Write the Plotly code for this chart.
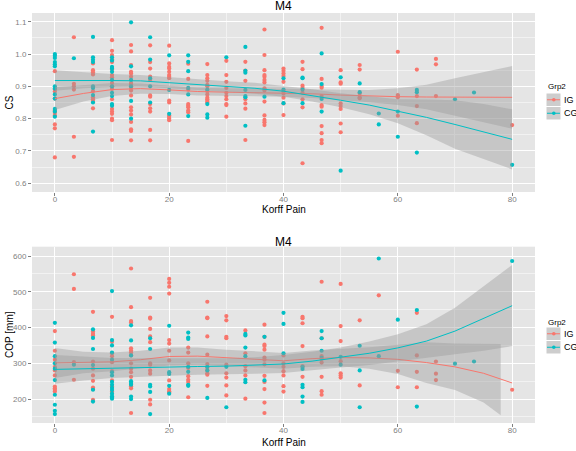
import plotly.graph_objects as go

# ---------------- data ----------------
# Korff Pain levels -> CS values, per group
CS_IG = {
    0: [0.947, 0.89, 0.884, 0.862, 0.825, 0.818, 0.81, 0.782, 0.77, 0.68],
    3.33: [1.052, 0.908, 0.9, 0.89, 0.744, 0.682],
    6.67: [0.971, 0.95, 0.944, 0.937, 0.885, 0.866, 0.86, 0.855, 0.832],
    10: [1.043, 1.01, 0.997, 0.984, 0.975, 0.952, 0.935, 0.928, 0.91, 0.9, 0.892, 0.86, 0.83, 0.822, 0.815, 0.8, 0.795, 0.734],
    13.33: [1.028, 1.008, 0.966, 0.945, 0.94, 0.93, 0.91, 0.905, 0.895, 0.887, 0.872, 0.835, 0.825, 0.813, 0.79, 0.767, 0.762, 0.733],
    16.67: [1.027, 0.975, 0.955, 0.93, 0.92, 0.872, 0.868, 0.845, 0.832, 0.822, 0.765, 0.733],
    20: [1.026, 0.971, 0.96, 0.955, 0.945, 0.935, 0.93, 0.925, 0.856, 0.85, 0.81, 0.805, 0.8, 0.795],
    23.33: [0.97, 0.923, 0.89, 0.845, 0.84, 0.835, 0.825, 0.82, 0.731],
    26.67: [0.969, 0.935, 0.925, 0.917, 0.905, 0.9, 0.885, 0.875, 0.865, 0.86, 0.855, 0.85],
    30: [0.979, 0.935, 0.914, 0.895, 0.88, 0.87, 0.86, 0.845, 0.842, 0.806],
    33.33: [0.976, 0.949, 0.917, 0.86, 0.847, 0.831, 0.734],
    36.67: [1.076, 0.997, 0.95, 0.935, 0.93, 0.92, 0.912, 0.894, 0.887, 0.853, 0.81, 0.796, 0.789, 0.78],
    40: [0.955, 0.948, 0.94, 0.932, 0.914, 0.885, 0.878, 0.865, 0.847, 0.811],
    43.33: [0.976, 0.953, 0.902, 0.895, 0.88, 0.86, 0.835, 0.662],
    46.67: [1.081, 0.923, 0.901, 0.896, 0.87, 0.842, 0.837, 0.777, 0.755, 0.734, 0.724],
    50: [0.95, 0.912, 0.908, 0.847, 0.839, 0.83, 0.785, 0.758],
    53.33: [0.966, 0.952, 0.878, 0.866, 0.863],
    60: [1.007, 0.873, 0.87, 0.866, 0.809],
    63.33: [0.952, 0.87, 0.839, 0.786],
    66.67: [0.985, 0.968, 0.87],
    80: [0.78],
}
CS_CG = {
    0: [1.0, 0.995, 0.988, 0.975, 0.968, 0.962, 0.9, 0.893, 0.875, 0.862, 0.83, 0.822, 0.806],
    3.33: [0.987],
    6.67: [1.053, 0.99, 0.982, 0.975, 0.9, 0.895, 0.873, 0.85, 0.76],
    10: [0.99, 0.98, 0.96, 0.955, 0.945, 0.92, 0.9, 0.88, 0.87, 0.845, 0.84],
    13.33: [1.098, 0.962, 0.92, 0.9, 0.855, 0.8],
    16.67: [1.052, 0.983, 0.925, 0.9, 0.85],
    20: [0.996, 0.889, 0.815],
    23.33: [0.996, 0.976, 0.947, 0.895, 0.875, 0.808],
    26.67: [0.89, 0.845, 0.813, 0.803],
    30: [0.99],
    33.33: [1.022, 0.948, 0.942, 0.889, 0.87, 0.866, 0.778],
    36.67: [0.868],
    40: [0.925, 0.89, 0.848],
    43.33: [0.927, 0.925, 0.89, 0.848],
    46.67: [1.002, 0.907, 0.861, 0.822],
    50: [0.928, 0.639],
    53.33: [0.909, 0.882],
    56.67: [0.816, 0.782],
    60: [0.822, 0.744],
    63.33: [0.889, 0.882, 0.695],
    70: [0.86],
    73.33: [0.881],
    80: [0.657],
}
COP_IG = {
    0: [390, 335, 310, 290, 280, 266, 235, 230, 226, 221],
    3.33: [549, 508, 303, 254],
    6.67: [444, 389, 382, 378, 305, 285, 266, 251, 232, 228, 198],
    10: [430, 360, 328, 320, 303, 278, 252, 235, 221],
    13.33: [565, 457, 418, 414, 342, 336, 330, 322, 300, 285, 275, 262, 242, 236, 230, 161],
    16.67: [483, 428, 425, 396, 375, 359, 300, 296, 280, 271, 198, 185],
    20: [536, 525, 514, 495, 365, 355, 335, 308, 252, 228, 222, 218],
    23.33: [344, 330, 300, 287, 264, 254, 248, 205],
    26.67: [472, 428, 426, 375, 324, 298, 288, 280, 272, 268, 237],
    30: [432, 420, 374, 370, 296, 272, 260, 238, 210],
    33.33: [392, 328, 292, 280, 266, 201],
    36.67: [408, 374, 352, 348, 338, 316, 310, 297, 265, 248, 228, 190, 161],
    40: [322, 300, 290, 278, 266, 236, 221],
    43.33: [430, 426, 412, 348, 292, 262],
    46.67: [528, 370, 320, 312, 302, 262, 222, 212],
    50: [522, 404, 362, 306, 272, 266, 260],
    53.33: [420, 238],
    56.67: [490],
    60: [279, 233],
    63.33: [441, 322, 276, 233],
    66.67: [305, 271, 253],
    80: [226],
}
COP_CG = {
    0: [413, 358, 320, 300, 285, 253, 212, 184, 167, 158],
    3.33: [296],
    6.67: [395, 371, 340, 295, 226, 193],
    10: [502, 365, 350, 330, 310, 275, 266, 248, 240, 231, 225, 215, 208, 204, 201],
    13.33: [406, 364, 322, 250, 245, 240, 207, 200],
    16.67: [370, 340, 240, 235, 220, 158],
    20: [405, 275, 270, 237, 215],
    23.33: [386, 372, 368, 290, 276, 240, 237],
    26.67: [290, 280, 203],
    30: [290, 177],
    33.33: [382, 378, 344, 320, 254, 247],
    36.67: [374, 252],
    40: [441, 410, 328],
    43.33: [290, 284, 240, 233, 207, 192],
    46.67: [390, 370, 335, 315],
    50: [318, 296],
    53.33: [349, 280, 177],
    56.67: [593, 320],
    60: [422],
    63.33: [449, 179],
    70: [299],
    73.33: [305],
    80: [586],
}

# loess fits and confidence bands
FIT_X = [0, 5, 10, 15, 20, 25, 30, 35, 40, 45, 50, 55, 60, 65, 70, 75, 80]
CS_IG_FIT = [0.862, 0.878, 0.890, 0.893, 0.889, 0.884, 0.882, 0.881, 0.880, 0.877, 0.873, 0.870, 0.868, 0.867, 0.867, 0.866, 0.866]
CS_IG_LO = [0.827, 0.853, 0.870, 0.877, 0.876, 0.872, 0.870, 0.869, 0.868, 0.864, 0.858, 0.851, 0.842, 0.829, 0.809, 0.788, 0.769]
CS_IG_HI = [0.897, 0.903, 0.910, 0.909, 0.902, 0.896, 0.894, 0.893, 0.892, 0.890, 0.888, 0.889, 0.894, 0.905, 0.925, 0.944, 0.963]
CS_CG_FIT = [0.918, 0.919, 0.918, 0.917, 0.911, 0.905, 0.900, 0.894, 0.885, 0.872, 0.857, 0.842, 0.823, 0.804, 0.782, 0.760, 0.736]
CS_CG_LO = [0.886, 0.894, 0.898, 0.899, 0.894, 0.889, 0.884, 0.877, 0.868, 0.853, 0.835, 0.814, 0.786, 0.749, 0.707, 0.675, 0.643]
CS_CG_HI = [0.950, 0.944, 0.938, 0.935, 0.928, 0.921, 0.916, 0.911, 0.902, 0.891, 0.879, 0.870, 0.860, 0.859, 0.857, 0.845, 0.829]

COP_IG_FIT = [301, 302, 304, 310, 319, 320, 316, 311, 307, 313, 316, 315, 311, 302, 290, 272, 245]
COP_IG_BAND_X = [0, 5, 10, 15, 20, 25, 30, 35, 40, 45, 50, 55, 60, 65, 70, 75, 78]
COP_IG_LO = [259, 272, 278, 285, 294, 296, 294, 289, 285, 290, 292, 285, 270, 245, 225, 190, 155]
COP_IG_HI = [343, 332, 330, 335, 344, 344, 338, 333, 329, 336, 340, 345, 352, 359, 355, 354, 354]
COP_CG_FIT = [283, 285, 287, 288, 290, 291, 292, 294, 298, 306, 316, 328, 343, 362, 390, 425, 461]
COP_CG_LO = [243, 252, 259, 262, 265, 268, 270, 271, 273, 280, 288, 295, 305, 315, 325, 335, 348]
COP_CG_HI = [323, 318, 315, 314, 315, 314, 314, 317, 323, 332, 344, 361, 381, 409, 455, 515, 575]

GROUPS = ["IG", "CG"]
X_TICKS = [0, 20, 40, 60, 80]
CS_TICKS = [0.6, 0.7, 0.8, 0.9, 1.0, 1.1]
COP_TICKS = [200, 300, 400, 500, 600]

# ---------------- styling ----------------
W, H = 576, 451
RED, TEAL = "#F8766D", "#00BFC4"
BAND = "rgba(153,153,153,0.4)"
FONT = "Liberation Sans, Arial, sans-serif"


def px(x):
    return x / W


def py(y):
    return 1 - y / H


def flat(d):
    xs, ys = [], []
    for k, vals in d.items():
        for v in vals:
            xs.append(k)
            ys.append(v)
    return xs, ys


fig = go.Figure()


def add_panel(xa, ya, ig, cg, ig_fit, ig_bx, ig_lo, ig_hi, cg_fit, cg_lo, cg_hi):
    for d, col in ((ig, RED), (cg, TEAL)):
        xs, ys = flat(d)
        fig.add_trace(go.Scatter(x=xs, y=ys, mode="markers", xaxis=xa, yaxis=ya,
                                 marker=dict(color=col, size=4.2, line=dict(width=0)),
                                 showlegend=False, hoverinfo="skip"))
    for bx, lo, hi, fit, col in ((ig_bx, ig_lo, ig_hi, ig_fit, RED), (FIT_X, cg_lo, cg_hi, cg_fit, TEAL)):
        fig.add_trace(go.Scatter(x=list(bx) + list(bx)[::-1], y=list(hi) + list(lo)[::-1],
                                 fill="toself", fillcolor=BAND, line=dict(width=0),
                                 mode="lines", xaxis=xa, yaxis=ya, showlegend=False, hoverinfo="skip"))
        fig.add_trace(go.Scatter(x=FIT_X, y=fit, mode="lines", xaxis=xa, yaxis=ya,
                                 line=dict(color=col, width=1), showlegend=False, hoverinfo="skip"))


add_panel("x", "y", CS_IG, CS_CG, CS_IG_FIT, FIT_X, CS_IG_LO, CS_IG_HI, CS_CG_FIT, CS_CG_LO, CS_CG_HI)
add_panel("x2", "y2", COP_IG, COP_CG, COP_IG_FIT, COP_IG_BAND_X, COP_IG_LO, COP_IG_HI,
          COP_CG_FIT, COP_CG_LO, COP_CG_HI)

XDOM = [px(32), px(535)]
axis_common = dict(showline=False, zeroline=False, ticks="outside", ticklen=3, tickwidth=1,
                   tickcolor="#7F7F7F", tickfont=dict(family=FONT, size=8, color="#7F7F7F"),
                   showgrid=True, gridcolor="#FFFFFF", gridwidth=1)
minor_common = dict(showgrid=True, gridcolor="#F2F2F2", gridwidth=0.6, ticks="")

fig.update_layout(
    width=W, height=H, margin=dict(l=0, r=0, t=0, b=0),
    paper_bgcolor="#FFFFFF", plot_bgcolor="#E5E5E5", showlegend=False,
    font=dict(family=FONT),
    xaxis=dict(domain=XDOM, anchor="y", range=[-4, 84], tickvals=X_TICKS, ticklabelstandoff=-4,
               minor=dict(dtick=10, tick0=0, **minor_common), **axis_common),
    yaxis=dict(domain=[py(192), py(13)], anchor="x", range=[0.573, 1.127], tickvals=CS_TICKS,
               tickformat=".1f", minor=dict(dtick=0.05, tick0=0.6, **minor_common), **axis_common),
    xaxis2=dict(domain=XDOM, anchor="y2", range=[-4, 84], tickvals=X_TICKS, ticklabelstandoff=-4,
                minor=dict(dtick=10, tick0=0, **minor_common), **axis_common),
    yaxis2=dict(domain=[py(423), py(246.7)], anchor="x2", range=[133, 626], tickvals=COP_TICKS,
                minor=dict(dtick=50, tick0=150, **minor_common), **axis_common),
)

ann = []
cx = px((32 + 535) / 2)
for title_y, xt_y, yt, yt_y in ((6, 210, "CS", 102.5), (242, 442, "COP [mm]", 335)):
    ann.append(dict(text="M4", x=cx, y=py(title_y), xref="paper", yref="paper",
                    showarrow=False, xanchor="center", yanchor="middle",
                    font=dict(family=FONT, size=12, color="#000000")))
    ann.append(dict(text="Korff Pain", x=cx, y=py(xt_y), xref="paper", yref="paper",
                    showarrow=False, xanchor="center", yanchor="middle",
                    font=dict(family=FONT, size=10, color="#000000")))
    ann.append(dict(text=yt, x=px(9), y=py(yt_y), xref="paper", yref="paper", textangle=-90,
                    showarrow=False, xanchor="center", yanchor="middle",
                    font=dict(family=FONT, size=10, color="#000000")))

shapes = []
for title_y, key_top in ((86, 93), (322, 327)):
    ann.append(dict(text="Grp2", x=px(546), y=py(title_y), xref="paper", yref="paper",
                    showarrow=False, xanchor="left", yanchor="middle",
                    font=dict(family=FONT, size=8, color="#000000")))
    for i, (g, col) in enumerate(zip(GROUPS, (RED, TEAL))):
        t = key_top + i * 13.5
        b = t + 13.5
        mid = (t + b) / 2
        shapes.append(dict(type="rect", xref="paper", yref="paper", x0=px(546.5), x1=px(560.5),
                           y0=py(b - 0.5), y1=py(t + 0.5), fillcolor="#CDCDCD", line=dict(width=0),
                           layer="above"))
        shapes.append(dict(type="line", xref="paper", yref="paper", x0=px(547), x1=px(560),
                           y0=py(mid), y1=py(mid), line=dict(color=col, width=1), layer="above"))
        shapes.append(dict(type="circle", xref="paper", yref="paper", x0=px(552), x1=px(555.6),
                           y0=py(mid + 1.8), y1=py(mid - 1.8), fillcolor=col, line=dict(width=0),
                           layer="above"))
        ann.append(dict(text=g, x=px(562), y=py(mid), xref="paper", yref="paper",
                        showarrow=False, xanchor="left", yanchor="middle",
                        font=dict(family=FONT, size=9, color="#000000")))

fig.update_layout(annotations=ann, shapes=shapes)
fig.write_html("out.html")
